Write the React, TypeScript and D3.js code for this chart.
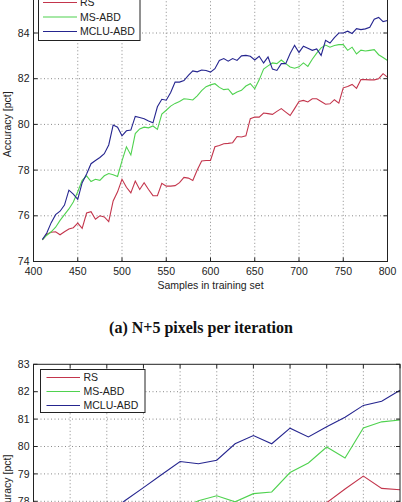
import React from 'react';
import * as d3 from 'd3';

// (a) N+5 pixels per iteration
const samplesA = [
  410, 415, 420, 425, 430, 435, 440, 445, 450, 455,
  460, 465, 470, 475, 480, 485, 490, 495, 500, 505,
  510, 515, 520, 525, 530, 535, 540, 545, 550, 555,
  560, 565, 570, 575, 580, 585, 590, 595, 600, 605,
  610, 615, 620, 625, 630, 635, 640, 645, 650, 655,
  660, 665, 670, 675, 680, 685, 690, 695, 700, 705,
  710, 715, 720, 725, 730, 735, 740, 745, 750, 755,
  760, 765, 770, 775, 780, 785, 790, 795, 800,
];
const rsA = [
  74.95, 75.2, 75.28, 75.3, 75.17, 75.3, 75.42, 75.48, 75.68, 75.45,
  76.12, 76.18, 75.85, 76.0, 75.95, 75.75, 76.65, 77.05, 77.6, 77.25,
  77.0, 77.52, 77.15, 77.45, 77.15, 76.88, 76.88, 77.42, 77.3, 77.3,
  77.32, 77.45, 77.68, 77.65, 77.55, 78.0, 78.4, 78.42, 78.42, 79.02,
  79.08, 79.15, 79.17, 79.2, 79.47, 79.45, 79.5, 80.25, 80.32, 80.32,
  80.5, 80.47, 80.44, 80.57, 80.69, 80.54, 80.39, 80.69, 81.0, 81.05,
  80.98, 81.12, 81.12, 81.0, 80.88, 80.9, 81.08, 80.93, 81.6, 81.66,
  81.75, 81.58, 81.96, 81.96, 81.95, 81.95, 82.0, 82.22, 82.07,
];
const msA = [
  74.95, 75.15, 75.3, 75.5, 75.8, 76.05, 76.3, 76.6, 77.05, 77.55,
  77.75, 77.5, 77.6, 77.55, 77.75, 77.85, 77.8, 77.72, 78.4, 79.02,
  78.66, 79.6, 79.8, 79.88, 79.85, 79.93, 79.78, 80.45, 80.62, 80.8,
  80.92, 81.0, 81.12, 81.1, 81.07, 81.25, 81.48, 81.65, 81.73, 81.78,
  81.62, 81.52, 81.55, 81.31, 81.42, 81.49, 81.68, 81.78, 81.56, 81.95,
  82.42, 82.56, 82.69, 82.66, 82.82, 82.66, 82.51, 82.46, 82.52, 82.69,
  82.54, 82.85, 83.12, 83.35, 83.47, 83.38, 83.45, 83.49, 83.49, 83.24,
  83.38, 83.08, 83.25, 83.21, 83.24, 83.27, 83.05, 82.93, 82.8,
];
const mcluA = [
  74.96, 75.25, 75.7, 76.05, 76.2, 76.47, 77.12, 76.95, 76.72, 77.45,
  77.83, 78.28, 78.42, 78.55, 78.72, 79.1, 79.97, 79.88, 79.5, 79.72,
  79.75, 80.35, 80.3, 80.25, 80.15, 80.07, 80.77, 81.1, 81.06, 81.4,
  81.85, 81.85, 81.92, 82.15, 82.34, 82.3, 82.38, 82.36, 82.29, 82.44,
  82.8, 82.88, 82.77, 82.88, 82.8, 83.0, 83.02, 82.98, 82.82, 82.98,
  82.69, 82.95, 82.42, 82.36, 82.66, 82.66, 83.1, 83.46, 83.15, 83.42,
  83.33, 83.24, 83.3, 83.02, 83.68, 83.56, 83.8, 84.0, 84.0, 84.08,
  83.98, 84.19, 84.15, 84.18, 84.25, 84.6, 84.68, 84.5, 84.55,
];
const xTicksA = [400, 450, 500, 550, 600, 650, 700, 750, 800];
const yTicksA = [74, 76, 78, 80, 82, 84, 86];

// (b) second panel, only its top part is in the picture
const samplesB = [
  400, 425, 450, 475, 500, 525, 550, 575, 600, 625,
  650, 675, 700, 725, 750, 775, 800, 825, 850, 875, 900,
];
const rsB = [
  75.0, 75.4, 75.7, 75.9, 76.3, 76.4, 76.7, 76.6, 77.0, 77.1,
  77.0, 77.3, 77.2, 77.5, 77.4, 77.6, 77.95, 78.45, 78.92, 78.47, 78.42,
];
const msB = [
  75.0, 75.6, 76.1, 76.4, 76.8, 77.0, 77.3, 77.5, 77.7, 78.02,
  78.2, 77.98, 78.28, 78.34, 79.05, 79.4, 79.98, 79.58, 80.68, 80.9, 80.97,
];
const mcluB = [
  75.0, 75.8, 76.5, 77.0, 77.5, 78.03, 78.5, 78.98, 79.45, 79.37,
  79.5, 80.1, 80.4, 80.1, 80.67, 80.35, 80.72, 81.07, 81.5, 81.65, 82.05,
];
const xTicksB = [400, 450, 500, 550, 600, 650, 700, 750, 800, 850, 900];
const yTicksB = [74, 75, 76, 77, 78, 79, 80, 81, 82, 83];

const seriesNames = ['RS', 'MS-ABD', 'MCLU-ABD'];
const colors = ['#c3354c', '#4fd24f', '#25258f'];

const FONT = 'Liberation Sans, Arial, Helvetica, sans-serif';
const H = 502;

type Box = { left: number; right: number; top: number; bottom: number };
type Legend = { x: number; y: number; w: number; h: number; row0: number; gap: number; l0: number; l1: number; tx: number };

function Panel(props: {
  xs: number[];
  series: number[][];
  xTicks: number[];
  yTicks: number[];
  box: Box;
  legend: Legend;
}) {
  const { xs, series, xTicks, yTicks, box, legend } = props;
  const x = d3.scaleLinear().domain([xTicks[0], xTicks[xTicks.length - 1]]).range([box.left, box.right]);
  const y = d3.scaleLinear().domain([yTicks[0], yTicks[yTicks.length - 1]]).range([box.bottom, box.top]);
  const line = d3.line<number>().x((_, i) => x(xs[i])).y((d) => y(d));
  const tk = 4;
  // only texts that land inside the page are drawn
  const showX = box.bottom + 13 < H;
  const yLabelTicks = yTicks.filter((t) => y(t) > 0 && y(t) < H);

  return (
    <g>
      {/* dotted grid */}
      {xTicks.slice(1, -1).map((t) => (
        <line key={'gx' + t} x1={x(t)} x2={x(t)} y1={box.top} y2={box.bottom}
          stroke="#8a8a8a" strokeDasharray="1,2.5" />
      ))}
      {yTicks.slice(1, -1).map((t) => (
        <line key={'gy' + t} x1={box.left} x2={box.right} y1={y(t)} y2={y(t)}
          stroke="#8a8a8a" strokeDasharray="1,2.5" />
      ))}

      {/* series */}
      {series.map((s, i) => (
        <path key={seriesNames[i]} d={line(s) || ''} fill="none" stroke={colors[i]} strokeWidth={1.1} />
      ))}

      {/* inward ticks on all four sides */}
      {xTicks.map((t) => (
        <g key={'tx' + t} stroke="#222">
          <line x1={x(t)} x2={x(t)} y1={box.bottom} y2={box.bottom - tk} />
          <line x1={x(t)} x2={x(t)} y1={box.top} y2={box.top + tk} />
        </g>
      ))}
      {yTicks.map((t) => (
        <g key={'ty' + t} stroke="#222">
          <line x1={box.left} x2={box.left + tk} y1={y(t)} y2={y(t)} />
          <line x1={box.right} x2={box.right - tk} y1={y(t)} y2={y(t)} />
        </g>
      ))}
      <rect x={box.left} y={box.top} width={box.right - box.left} height={box.bottom - box.top}
        fill="none" stroke="#222" />

      {/* tick labels */}
      {showX && xTicks.map((t) => (
        <text key={'lx' + t} x={x(t)} y={box.bottom + 13} textAnchor="middle"
          fontSize={10.5} fontFamily={FONT} fill="#222">{t}</text>
      ))}
      {yLabelTicks.map((t) => (
        <text key={'ly' + t} x={box.left - 4} y={y(t)} dy="0.35em" textAnchor="end"
          fontSize={10.5} fontFamily={FONT} fill="#222">{t}</text>
      ))}
      {showX && (
        <text x={(box.left + box.right) / 2} y={box.bottom + 27} textAnchor="middle"
          fontSize={10.5} fontFamily={FONT} fill="#222">Samples in training set</text>
      )}
      <text transform={`translate(11,${(box.top + box.bottom) / 2}) rotate(-90)`} textAnchor="middle"
        fontSize={10.5} fontFamily={FONT} fill="#222">Accuracy [pct]</text>

      {/* legend */}
      <rect x={legend.x} y={legend.y} width={legend.w} height={legend.h} fill="#fff" stroke="#222" />
      {seriesNames.map((n, i) => {
        const ry = legend.row0 + i * legend.gap;
        return (
          <g key={'lg' + n}>
            <line x1={legend.l0} x2={legend.l1} y1={ry} y2={ry} stroke={colors[i]} strokeWidth={1.1} />
            <text x={legend.tx} y={ry} dy="0.35em" fontSize={10.5} fontFamily={FONT} fill="#222">{n}</text>
          </g>
        );
      })}
    </g>
  );
}

export default function App() {
  return (
    <div style={{ position: 'fixed', left: 0, top: 0, width: 402, height: H, overflow: 'hidden', background: '#fff' }}>
      <svg width={402} height={H} style={{ display: 'block' }}>
        <rect width={402} height={H} fill="#fff" />
        <Panel
          xs={samplesA}
          series={[rsA, msA, mcluA]}
          xTicks={xTicksA}
          yTicks={yTicksA}
          box={{ left: 33.5, right: 387.5, top: -12.7, bottom: 261.5 }}
          legend={{ x: 38.5, y: -6, w: 101.5, h: 46.5, row0: 2.5, gap: 14.5, l0: 43, l1: 77, tx: 80 }}
        />
        <text x={201} y={333} textAnchor="middle" fontSize={16} fontWeight="bold"
          fontFamily="Liberation Serif, Times New Roman, serif" fill="#111">(a) N+5 pixels per iteration</text>
        <Panel
          xs={samplesB}
          series={[rsB, msB, mcluB]}
          xTicks={xTicksB}
          yTicks={yTicksB}
          box={{ left: 33.5, right: 400, top: 364.3, bottom: 610.9 }}
          legend={{ x: 40.5, y: 369.5, w: 104.5, h: 43, row0: 377.5, gap: 14, l0: 46.5, l1: 80, tx: 83.5 }}
        />
      </svg>
    </div>
  );
}
